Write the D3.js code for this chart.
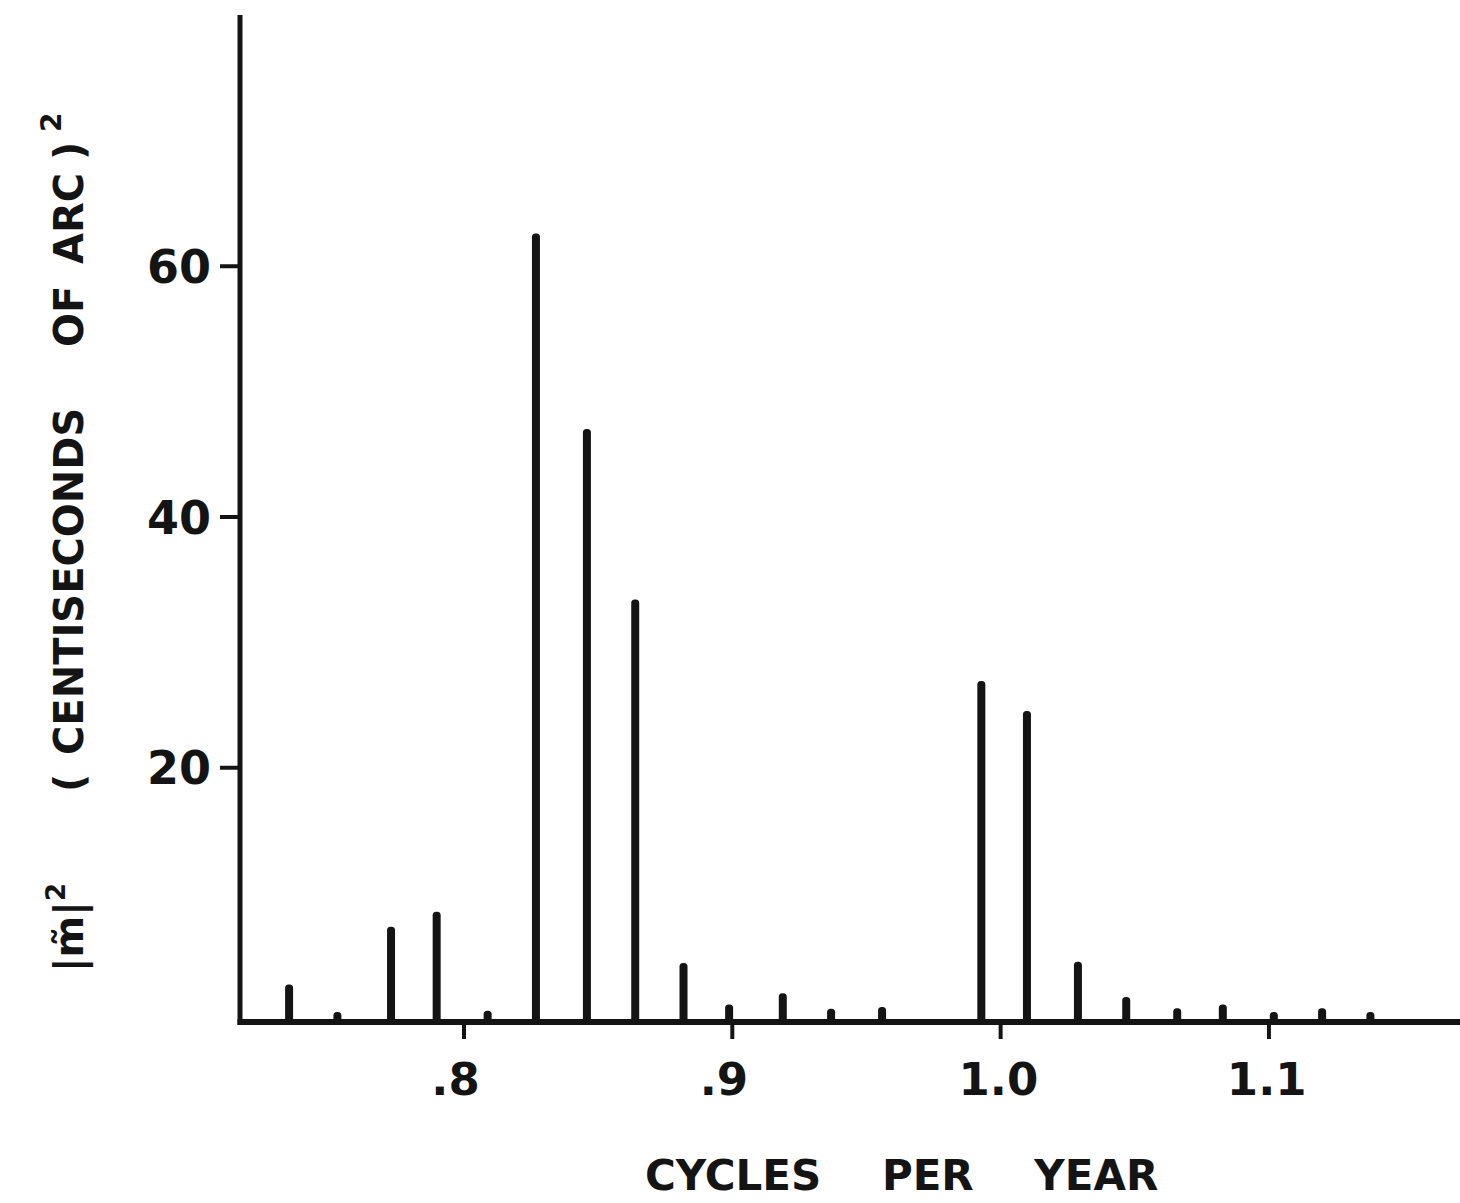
<!DOCTYPE html>
<html>
<head>
<meta charset="utf-8">
<script src="https://cdn.jsdelivr.net/npm/d3@7"></script>
<style>
  html, body { margin: 0; padding: 0; background: #ffffff; }
  svg { display: block; }
  text { font-family: "DejaVu Sans", sans-serif; font-weight: bold; fill: #141414; }
</style>
</head>
<body>
<svg id="chart" width="1460" height="1203"></svg>
<script>
// Spectral lines: frequency (cycles per year) and power |m~|^2 in (centiseconds of arc)^2
const frequencies = [0.735, 0.753, 0.773, 0.790, 0.809, 0.827, 0.846, 0.864, 0.882, 0.899,
                     0.919, 0.937, 0.956, 0.993, 1.010, 1.029, 1.047, 1.066, 1.083, 1.102,
                     1.120, 1.138];
const powers      = [2.6, 0.4, 7.2, 8.4, 0.5, 62.5, 46.9, 33.3, 4.3, 1.0,
                     1.9, 0.65, 0.8, 26.8, 24.4, 4.4, 1.6, 0.7, 1.0, 0.4,
                     0.7, 0.4];
const xTicks = [0.8, 0.9, 1.0, 1.1];
const xTickLabels = [".8", ".9", "1.0", "1.1"];
const yTicks = [20, 40, 60];

const ink = "#141414";
const svg = d3.select("#chart");

const x = d3.scaleLinear().domain([0.7167, 1.1714]).range([240, 1460]);
const y = d3.scaleLinear().domain([0, 80]).range([1018, 15]);
const axisY = y(0) + 4;   // horizontal axis line sits just under the zero level

// bars
svg.append("g")
  .selectAll("rect")
  .data(frequencies.map((f, i) => ({ f, v: powers[i] })))
  .join("rect")
    .attr("x", d => x(d.f) - 4)
    .attr("y", d => y(d.v) - 1)
    .attr("width", 8)
    .attr("height", d => axisY - y(d.v) + 1)
    .attr("rx", 3.5)
    .attr("fill", ink);

// vertical axis with ticks
const gy = svg.append("g")
  .attr("transform", `translate(${x.range()[0]},0)`)
  .call(d3.axisLeft(y).tickValues(yTicks).tickSize(20).tickSizeOuter(0).tickPadding(9));
gy.select(".domain").remove();
gy.selectAll(".tick line").attr("stroke", ink).attr("stroke-width", 4);
gy.selectAll(".tick text")
  .attr("font-size", 46)
  .attr("font-family", "DejaVu Sans")
  .attr("font-weight", "bold")
  .attr("fill", ink)
  .attr("dy", "0.36em");

svg.append("line")
  .attr("x1", x.range()[0]).attr("x2", x.range()[0])
  .attr("y1", y(80)).attr("y2", axisY + 3)
  .attr("stroke", ink).attr("stroke-width", 5);

// horizontal axis with ticks
const gx = svg.append("g")
  .attr("transform", `translate(0,${axisY})`)
  .call(d3.axisBottom(x).tickValues(xTicks).tickSize(17).tickSizeOuter(0).tickPadding(24)
        .tickFormat((d, i) => xTickLabels[i]));
gx.select(".domain").remove();
gx.selectAll(".tick line").attr("stroke", ink).attr("stroke-width", 4);
gx.selectAll(".tick text")
  .attr("font-size", 45)
  .attr("font-family", "DejaVu Sans")
  .attr("font-weight", "bold")
  .attr("fill", ink)
  .attr("text-anchor", (d, i) => xTickLabels[i].startsWith(".") ? "end" : "middle")
  .attr("dx", (d, i) => xTickLabels[i].startsWith(".") ? "0.35em" : "-0.05em");

svg.append("line")
  .attr("x1", x.range()[0] - 2.5).attr("x2", x.range()[1])
  .attr("y1", axisY).attr("y2", axisY)
  .attr("stroke", ink).attr("stroke-width", 6);

// axis titles
svg.append("text")
  .attr("x", 645).attr("y", 1190)
  .attr("font-size", 42)
  .attr("word-spacing", 46)
  .text("CYCLES PER YEAR");

const yl = svg.append("g").attr("transform", "translate(83,0) rotate(-90)");
const ylabel = yl.append("text").attr("font-size", 40);
ylabel.append("tspan").attr("x", -972).text("|m\u0303|");
ylabel.append("tspan").attr("font-size", 26).attr("dy", -18).text("2");
ylabel.append("tspan").attr("x", -792).attr("dy", 18).text("(");
ylabel.append("tspan").attr("x", -755).text("CENTISECONDS");
ylabel.append("tspan").attr("x", -347).text("OF");
ylabel.append("tspan").attr("x", -264).text("ARC");
ylabel.append("tspan").attr("x", -160).text(")");
ylabel.append("tspan").attr("x", -132).attr("font-size", 28).attr("dy", -22).text("2");
</script>
</body>
</html>
